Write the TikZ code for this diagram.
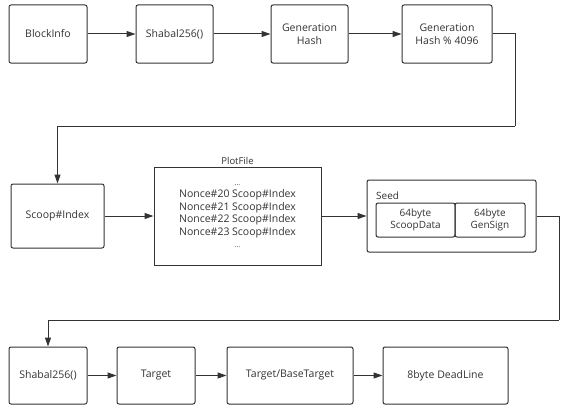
\documentclass[tikz,border=0pt]{standalone}
\usepackage{fontspec}
\setmainfont{Open Sans}
\usepackage{xcolor}
\usetikzlibrary{arrows.meta,positioning}
\definecolor{ink}{HTML}{333333}
\tikzset{
  blk/.style={draw=ink,line width=1pt,rounded corners=2pt,align=center,
    text=ink,font=\fontsize{10.5}{13}\selectfont,inner sep=2pt},
  flow/.style={draw=ink,line width=1pt,-{Triangle[length=9pt,width=6pt]}},
  wire/.style={draw=ink,line width=1pt}
}
\begin{document}
\begin{tikzpicture}[x=1pt,y=-1pt]
\useasboundingbox (0,0) rectangle (569,412);
%%%%%%%%%%%%%%%% first row
\node[blk,minimum width=78pt,minimum height=58pt] (blockinfo) at (48,34) {BlockInfo};
\node[blk,minimum width=77pt,minimum height=58pt] (shabalA) at (174.5,34) {Shabal256()};
\node[blk,minimum width=77pt,minimum height=58pt] (genhash) at (309.5,34) {Generation\\Hash};
\node[blk,minimum width=90pt,minimum height=58pt] (genmod) at (447,34) {Generation\\Hash \% 4096};
\draw[flow] (blockinfo) -- (shabalA);
\draw[flow] (shabalA) -- (genhash);
\draw[flow] (genhash) -- (genmod);
%%%%%%%%%%%%%%%% second row
\node[blk,minimum width=93pt,minimum height=64pt] (scoop) at (57.5,216) {Scoop\#Index};
\node[blk,rounded corners=0pt,minimum width=167pt,minimum height=98pt,
  font=\fontsize{10.5}{12.5}\selectfont] (plotfile) at (237.5,216)
  {{\fontsize{7}{8}\selectfont ...}\\Nonce\#20 Scoop\#Index\\Nonce\#21 Scoop\#Index\\Nonce\#22 Scoop\#Index\\Nonce\#23 Scoop\#Index\\{\fontsize{7}{8}\selectfont ...}};
\node[text=ink,font=\fontsize{9.5}{11}\selectfont,above=-2pt of plotfile] (plotlabel) {PlotFile};
\node[blk,minimum width=169pt,minimum height=72pt] (seed) at (451.5,216) {};
\node[text=ink,font=\fontsize{10}{12}\selectfont,anchor=west,inner sep=0pt] (seedlabel) at (376,196) {Seed};
\node[blk,minimum width=79pt,minimum height=34pt,inner sep=1pt,
  font=\fontsize{10}{12}\selectfont] (scoopdata) at (415.5,220) {64byte\\ScoopData};
\node[blk,minimum width=70pt,minimum height=34pt,inner sep=1pt,
  font=\fontsize{10}{12}\selectfont] (gensign) at (490,220) {64byte\\GenSign};
\draw[flow] (scoop) -- (plotfile);
\draw[flow] (plotfile) -- (seed);
%%%%%%%%%%%%%%%% third row
\node[blk,minimum width=78pt,minimum height=57pt] (shabalB) at (48,375.5) {Shabal256()};
\node[blk,minimum width=78pt,minimum height=57pt] (target) at (156,375.5) {Target};
\node[blk,minimum width=126pt,minimum height=57pt] (basetarget) at (290,375.5) {Target/BaseTarget};
\node[blk,minimum width=125pt,minimum height=57pt] (deadline) at (445.5,375.5) {8byte DeadLine};
\draw[flow] (shabalB) -- (target);
\draw[flow] (target) -- (basetarget);
\draw[flow] (basetarget) -- (deadline);
%%%%%%%%%%%%%%%% row turns
\coordinate (turnA) at (515,126);
\coordinate (turnB) at (559,320);
\draw[wire] (genmod.east) -| (turnA);
\draw[flow] (turnA) -| (scoop.north);
\draw[wire] (seed.east) -| (turnB);
\draw[flow] (turnB) -| (shabalB.north);
\end{tikzpicture}
\end{document}
